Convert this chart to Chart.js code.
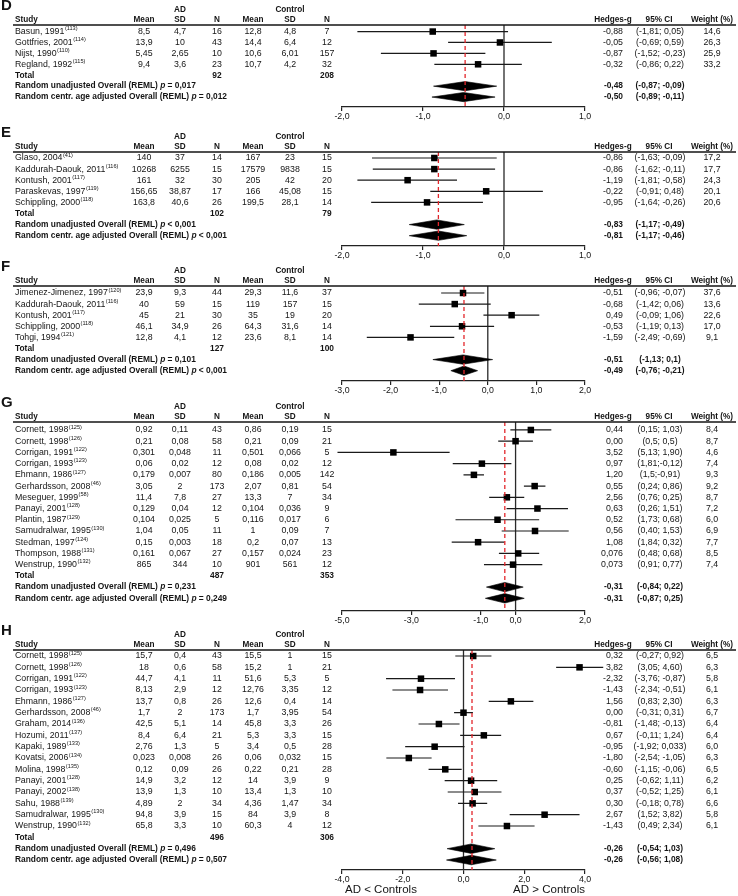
<!DOCTYPE html>
<html>
<head>
<meta charset="utf-8">
<script src="https://cdn.jsdelivr.net/npm/chart.js@4.4.1/dist/chart.umd.min.js"></script>
<style>
    html, body { margin: 0; padding: 0; background: #fff; }
    #page { position: relative; width: 738px; height: 896px; overflow: hidden; background: #fff; }
    #page canvas { position: absolute; left: 0; }
</style>
</head>
<body>
<div id="page"></div>
<script>
// ---------- Panel D ----------
const dStudy = ['Basun, 1991', 'Gottfries, 2001', 'Nijst, 1990', 'Regland, 1992'];
const dRef = ['113', '114', '110', '115'];
const dCells = [
    ['8,5', '4,7', '16', '12,8', '4,8', '7', '-0,88', '(-1,81; 0,05)', '14,6'],
    ['13,9', '10', '43', '14,4', '6,4', '12', '-0,05', '(-0,69; 0,59)', '26,3'],
    ['5,45', '2,65', '10', '10,6', '6,01', '157', '-0,87', '(-1,52; -0,23)', '25,9'],
    ['9,4', '3,6', '23', '10,7', '4,2', '32', '-0,32', '(-0,86; 0,22)', '33,2']
];
const dTotal = ['92', '208'];
const dPooledCells = [['= 0,017', '-0,48', '(-0,87; -0,09)'], ['= 0,012', '-0,50', '(-0,89; -0,11)']];
const dEffect = [-0.88, -0.05, -0.87, -0.32];
const dLow = [-1.81, -0.69, -1.52, -0.86];
const dHigh = [0.05, 0.59, -0.23, 0.22];
const dPooled = [-0.48, -0.50];
const dPooledLow = [-0.87, -0.89];
const dPooledHigh = [-0.09, -0.11];
const dSummary = -0.48;
const dTicks = [-2, -1, 0, 1];

// ---------- Panel E ----------
const eStudy = ['Glaso, 2004', 'Kaddurah-Daouk, 2011', 'Kontush, 2001', 'Paraskevas, 1997', 'Schippling, 2000'];
const eRef = ['41', '116', '117', '119', '118'];
const eCells = [
    ['140', '37', '14', '167', '23', '15', '-0,86', '(-1,63; -0,09)', '17,2'],
    ['10268', '6255', '15', '17579', '9838', '15', '-0,86', '(-1,62; -0,11)', '17,7'],
    ['161', '32', '30', '205', '42', '20', '-1,19', '(-1,81; -0,58)', '24,3'],
    ['156,65', '38,87', '17', '166', '45,08', '15', '-0,22', '(-0,91; 0,48)', '20,1'],
    ['163,8', '40,6', '26', '199,5', '28,1', '14', '-0,95', '(-1,64; -0,26)', '20,6']
];
const eTotal = ['102', '79'];
const ePooledCells = [['< 0,001', '-0,83', '(-1,17; -0,49)'], ['< 0,001', '-0,81', '(-1,17; -0,46)']];
const eEffect = [-0.86, -0.86, -1.19, -0.22, -0.95];
const eLow = [-1.63, -1.62, -1.81, -0.91, -1.64];
const eHigh = [-0.09, -0.11, -0.58, 0.48, -0.26];
const ePooled = [-0.83, -0.81];
const ePooledLow = [-1.17, -1.17];
const ePooledHigh = [-0.49, -0.46];
const eSummary = -0.81;
const eTicks = [-2, -1, 0, 1];

// ---------- Panel F ----------
const fStudy = ['Jimenez-Jimenez, 1997', 'Kaddurah-Daouk, 2011', 'Kontush, 2001', 'Schippling, 2000', 'Tohgi, 1994'];
const fRef = ['120', '116', '117', '118', '121'];
const fCells = [
    ['23,9', '9,3', '44', '29,3', '11,6', '37', '-0,51', '(-0,96; -0,07)', '37,6'],
    ['40', '59', '15', '119', '157', '15', '-0,68', '(-1,42; 0,06)', '13,6'],
    ['45', '21', '30', '35', '19', '20', '0,49', '(-0,09; 1,06)', '22,6'],
    ['46,1', '34,9', '26', '64,3', '31,6', '14', '-0,53', '(-1,19; 0,13)', '17,0'],
    ['12,8', '4,1', '12', '23,6', '8,1', '14', '-1,59', '(-2,49; -0,69)', '9,1']
];
const fTotal = ['127', '100'];
const fPooledCells = [['= 0,101', '-0,51', '(-1,13; 0,1)'], ['< 0,001', '-0,49', '(-0,76; -0,21)']];
const fEffect = [-0.51, -0.68, 0.49, -0.53, -1.59];
const fLow = [-0.96, -1.42, -0.09, -1.19, -2.49];
const fHigh = [-0.07, 0.06, 1.06, 0.13, -0.69];
const fPooled = [-0.51, -0.49];
const fPooledLow = [-1.13, -0.76];
const fPooledHigh = [0.1, -0.21];
const fSummary = -0.49;
const fTicks = [-3, -2, -1, 0, 1, 2];

// ---------- Panel G ----------
const gStudy = ['Cornett, 1998', 'Cornett, 1998', 'Corrigan, 1991', 'Corrigan, 1993', 'Ehmann, 1986',
    'Gerhardsson, 2008', 'Meseguer, 1999', 'Panayi, 2001', 'Plantin, 1987', 'Samudralwar, 1995',
    'Stedman, 1997', 'Thompson, 1988', 'Wenstrup, 1990'];
const gRef = ['125', '126', '122', '123', '127', '46', '58', '128', '129', '130', '124', '131', '132'];
const gCells = [
    ['0,92', '0,11', '43', '0,86', '0,19', '15', '0,44', '(0,15; 1,03)', '8,4'],
    ['0,21', '0,08', '58', '0,21', '0,09', '21', '0,00', '(0,5; 0,5)', '8,7'],
    ['0,301', '0,048', '11', '0,501', '0,066', '5', '3,52', '(5,13; 1,90)', '4,6'],
    ['0,06', '0,02', '12', '0,08', '0,02', '12', '0,97', '(1,81;-0,12)', '7,4'],
    ['0,179', '0,007', '80', '0,186', '0,005', '142', '1,20', '(1,5;-0,91)', '9,3'],
    ['3,05', '2', '173', '2,07', '0,81', '54', '0,55', '(0,24; 0,86)', '9,2'],
    ['11,4', '7,8', '27', '13,3', '7', '34', '2,56', '(0,76; 0,25)', '8,7'],
    ['0,129', '0,04', '12', '0,104', '0,036', '9', '0,63', '(0,26; 1,51)', '7,2'],
    ['0,104', '0,025', '5', '0,116', '0,017', '6', '0,52', '(1,73; 0,68)', '6,0'],
    ['1,04', '0,05', '11', '1', '0,09', '7', '0,56', '(0,40; 1,53)', '6,9'],
    ['0,15', '0,003', '18', '0,2', '0,07', '13', '1,08', '(1,84; 0,32)', '7,7'],
    ['0,161', '0,067', '27', '0,157', '0,024', '23', '0,076', '(0,48; 0,68)', '8,5'],
    ['865', '344', '10', '901', '561', '12', '0,073', '(0,91; 0,77)', '7,4']
];
const gTotal = ['487', '353'];
const gPooledCells = [['= 0,231', '-0,31', '(-0,84; 0,22)'], ['= 0,249', '-0,31', '(-0,87; 0,25)']];
// plotted positions as drawn in the figure
const gEffect = [0.44, 0.00, -3.52, -0.97, -1.20, 0.55, -0.25, 0.63, -0.52, 0.56, -1.08, 0.076, -0.073];
const gLow = [-0.15, -0.5, -5.13, -1.81, -1.5, 0.24, -0.76, -0.26, -1.73, -0.40, -1.84, -0.48, -0.91];
const gHigh = [1.03, 0.5, -1.90, -0.12, -0.91, 0.86, 0.25, 1.51, 0.68, 1.53, -0.32, 0.68, 0.77];
const gPooled = [-0.31, -0.31];
const gPooledLow = [-0.84, -0.87];
const gPooledHigh = [0.22, 0.25];
const gSummary = -0.31;
const gTicks = [-5, -3, -1, 0, 2];

// ---------- Panel H ----------
const hStudy = ['Cornett, 1998', 'Cornett, 1998', 'Corrigan, 1991', 'Corrigan, 1993', 'Ehmann, 1986',
    'Gerhardsson, 2008', 'Graham, 2014', 'Hozumi, 2011', 'Kapaki, 1989', 'Kovatsi, 2006', 'Molina, 1998',
    'Panayi, 2001', 'Panayi, 2002', 'Sahu, 1988', 'Samudralwar, 1995', 'Wenstrup, 1990'];
const hRef = ['125', '126', '122', '123', '127', '46', '136', '137', '133', '134', '135', '128', '138', '139', '130', '132'];
const hCells = [
    ['15,7', '0,4', '43', '15,5', '1', '15', '0,32', '(-0,27; 0,92)', '6,5'],
    ['18', '0,6', '58', '15,2', '1', '21', '3,82', '(3,05; 4,60)', '6,3'],
    ['44,7', '4,1', '11', '51,6', '5,3', '5', '-2,32', '(-3,76; -0,87)', '5,8'],
    ['8,13', '2,9', '12', '12,76', '3,35', '12', '-1,43', '(-2,34; -0,51)', '6,1'],
    ['13,7', '0,8', '26', '12,6', '0,4', '14', '1,56', '(0,83; 2,30)', '6,3'],
    ['1,7', '2', '173', '1,7', '3,95', '54', '0,00', '(-0,31; 0,31)', '6,7'],
    ['42,5', '5,1', '14', '45,8', '3,3', '26', '-0,81', '(-1,48; -0,13)', '6,4'],
    ['8,4', '6,4', '21', '5,3', '3,3', '15', '0,67', '(-0,11; 1,24)', '6,4'],
    ['2,76', '1,3', '5', '3,4', '0,5', '28', '-0,95', '(-1,92; 0,033)', '6,0'],
    ['0,023', '0,008', '26', '0,06', '0,032', '15', '-1,80', '(-2,54; -1,05)', '6,3'],
    ['0,12', '0,09', '26', '0,22', '0,21', '28', '-0,60', '(-1,15; -0,06)', '6,5'],
    ['14,9', '3,2', '12', '14', '3,9', '9', '0,25', '(-0,62; 1,11)', '6,2'],
    ['13,9', '1,3', '10', '13,4', '1,3', '10', '0,37', '(-0,52; 1,25)', '6,1'],
    ['4,89', '2', '34', '4,36', '1,47', '34', '0,30', '(-0,18; 0,78)', '6,6'],
    ['94,8', '3,9', '15', '84', '3,9', '8', '2,67', '(1,52; 3,82)', '5,8'],
    ['65,8', '3,3', '10', '60,3', '4', '12', '-1,43', '(0,49; 2,34)', '6,1']
];
const hTotal = ['496', '306'];
const hPooledCells = [['= 0,496', '-0,26', '(-0,54; 1,03)'], ['= 0,507', '-0,26', '(-0,56; 1,08)']];
const hEffect = [0.32, 3.82, -1.40, -1.43, 1.56, 0.00, -0.81, 0.67, -0.95, -1.80, -0.60, 0.25, 0.37, 0.30, 2.67, 1.43];
const hLow = [-0.27, 3.05, -2.55, -2.34, 0.83, -0.31, -1.48, -0.11, -1.92, -2.54, -1.15, -0.62, -0.52, -0.18, 1.52, 0.49];
const hHigh = [0.92, 4.60, -0.28, -0.51, 2.30, 0.31, -0.13, 1.24, 0.033, -1.05, -0.06, 1.11, 1.25, 0.78, 3.82, 2.34];
const hPooled = [0.26, 0.26];
const hPooledLow = [-0.54, -0.56];
const hPooledHigh = [1.03, 1.08];
const hSummary = 0.28;
const hTicks = [-4, -2, 0, 2, 4];

const pooledLabels = ['Random unadjusted Overall (REML)', 'Random centr. age adjusted Overall (REML)'];

// ---------- layout ----------
const FONT = "'Liberation Sans', Arial, sans-serif";
const INK = '#141414';
const cellX = [144, 180, 217, 253, 290, 327];
const gX = 623, ciX = 660, wX = 712, studyX = 15;

const panels = [
    { letter: 'D', study: dStudy, ref: dRef, cells: dCells, total: dTotal, pooledCells: dPooledCells,
      effect: dEffect, low: dLow, high: dHigh, pooled: dPooled, pooledLow: dPooledLow, pooledHigh: dPooledHigh,
      summary: dSummary, ticks: dTicks, areaTop: 25, areaBottom: 107, yMin: -0.6, yMax: 6.91 },
    { letter: 'E', study: eStudy, ref: eRef, cells: eCells, total: eTotal, pooledCells: ePooledCells,
      effect: eEffect, low: eLow, high: eHigh, pooled: ePooled, pooledLow: ePooledLow, pooledHigh: ePooledHigh,
      summary: eSummary, ticks: eTicks, areaTop: 152, areaBottom: 246, yMin: -0.54, yMax: 7.93 },
    { letter: 'F', study: fStudy, ref: fRef, cells: fCells, total: fTotal, pooledCells: fPooledCells,
      effect: fEffect, low: fLow, high: fHigh, pooled: fPooled, pooledLow: fPooledLow, pooledHigh: fPooledHigh,
      summary: fSummary, ticks: fTicks, areaTop: 286, areaBottom: 381, yMin: -0.63, yMax: 7.93 },
    { letter: 'G', study: gStudy, ref: gRef, cells: gCells, total: gTotal, pooledCells: gPooledCells,
      effect: gEffect, low: gLow, high: gHigh, pooled: gPooled, pooledLow: gPooledLow, pooledHigh: gPooledHigh,
      summary: gSummary, ticks: gTicks, areaTop: 422, areaBottom: 611, yMin: -0.71, yMax: 16.13 },
    { letter: 'H', study: hStudy, ref: hRef, cells: hCells, total: hTotal, pooledCells: hPooledCells,
      effect: hEffect, low: hLow, high: hHigh, pooled: hPooled, pooledLow: hPooledLow, pooledHigh: hPooledHigh,
      summary: hSummary, ticks: hTicks, areaTop: 650, areaBottom: 870, yMin: -0.53, yMax: 18.88, footer: true }
];

Chart.defaults.font.family = FONT;
Chart.defaults.color = INK;

function put(ctx, s, x, y, align, weight, size) {
    ctx.font = weight + ' ' + size + 'px ' + FONT;
    ctx.textAlign = align;
    ctx.textBaseline = 'middle';
    ctx.fillText(s, x, y);
    return ctx.measureText(s).width;
}

// Table text around the plot
function drawTable(chart, p) {
    const ctx = chart.ctx;
    const area = chart.chartArea;
    const ys = chart.scales.y;
    const n = p.effect.length;

    ctx.save();
    ctx.fillStyle = INK;
    ctx.strokeStyle = INK;
    ctx.lineWidth = 1.3;
    ctx.beginPath();
    ctx.moveTo(13, area.top);
    ctx.lineTo(736, area.top);
    ctx.stroke();

    put(ctx, p.letter, 1, area.top - 19, 'left', 'bold', 15);
    put(ctx, 'AD', cellX[1], area.top - 15.5, 'center', 'bold', 8.2);
    put(ctx, 'Control', cellX[4], area.top - 15.5, 'center', 'bold', 8.2);

    const hy = area.top - 5.5;
    put(ctx, 'Study', studyX, hy, 'left', 'bold', 8.2);
    ['Mean', 'SD', 'N', 'Mean', 'SD', 'N'].forEach((h, i) => put(ctx, h, cellX[i], hy, 'center', 'bold', 8.2));
    put(ctx, 'Hedges-g', 613, hy, 'center', 'bold', 8.2);
    put(ctx, '95% CI', 659, hy, 'center', 'bold', 8.2);
    put(ctx, 'Weight (%)', wX, hy, 'center', 'bold', 8.2);

    p.study.forEach((name, i) => {
        const y = ys.getPixelForValue(i);
        const w = put(ctx, name, studyX, y, 'left', 'normal', 8.8);
        put(ctx, '(' + p.ref[i] + ')', studyX + w + 0.5, y - 2.8, 'left', 'normal', 5.6);
        const row = p.cells[i];
        for (let c = 0; c < 6; c++) put(ctx, row[c], cellX[c], y, 'center', 'normal', 8.8);
        put(ctx, row[6], gX, y, 'right', 'normal', 8.8);
        put(ctx, row[7], ciX, y, 'center', 'normal', 8.8);
        put(ctx, row[8], wX, y, 'center', 'normal', 8.8);
    });

    const ty = ys.getPixelForValue(n);
    put(ctx, 'Total', studyX, ty, 'left', 'bold', 8.4);
    put(ctx, p.total[0], cellX[2], ty, 'center', 'bold', 8.4);
    put(ctx, p.total[1], cellX[5], ty, 'center', 'bold', 8.4);

    p.pooledCells.forEach((cell, k) => {
        const y = ys.getPixelForValue(n + 1 + k);
        let x = studyX;
        x += put(ctx, pooledLabels[k] + ' ', x, y, 'left', 'bold', 8.4);
        x += put(ctx, 'p', x, y, 'left', 'italic bold', 8.4);
        put(ctx, ' ' + cell[0], x, y, 'left', 'bold', 8.4);
        put(ctx, cell[1], gX, y, 'right', 'bold', 8.4);
        put(ctx, cell[2], ciX, y, 'center', 'bold', 8.4);
    });

    if (p.footer) {
        put(ctx, 'AD < Controls', 345, area.bottom + 20, 'left', 'normal', 11.5);
        put(ctx, 'AD > Controls', 585, area.bottom + 20, 'right', 'normal', 11.5);
    }
    ctx.restore();
}

function buildPanel(p) {
    const page = document.getElementById('page');
    const canvas = document.createElement('canvas');
    const top = p.areaTop - 27;
    const extra = p.footer ? 10 : 0;
    const height = p.areaBottom - top + 16 + extra;
    canvas.width = 738;
    canvas.height = height;
    canvas.style.top = top + 'px';
    canvas.style.width = '738px';
    canvas.style.height = height + 'px';
    page.appendChild(canvas);

    const n = p.effect.length;
    const ciData = [];
    p.effect.forEach((_, i) => {
        ciData.push({ x: p.low[i], y: i }, { x: p.high[i], y: i }, { x: NaN, y: NaN });
    });

    const diamonds = p.pooled.map((est, k) => {
        const r = n + 1 + k;
        return {
            type: 'line',
            order: 3,
            data: [
                { x: p.pooledLow[k], y: r }, { x: est, y: r - 0.42 },
                { x: p.pooledHigh[k], y: r }, { x: est, y: r + 0.42 },
                { x: p.pooledLow[k], y: r }
            ],
            fill: 'shape',
            backgroundColor: '#000',
            borderColor: '#000',
            borderWidth: 0.6,
            pointRadius: 0,
            tension: 0
        };
    });

    return new Chart(canvas.getContext('2d'), {
        type: 'scatter',
        data: {
            datasets: [
                {
                    // summary estimate
                    data: [{ x: p.summary, y: p.yMin }, { x: p.summary, y: p.yMax }],
                    showLine: true,
                    order: 0,
                    borderColor: '#e3262b',
                    borderWidth: 1.3,
                    borderDash: [4, 3],
                    pointRadius: 0
                },
                {
                    data: p.effect.map((v, i) => ({ x: v, y: i })),
                    order: 1,
                    pointStyle: 'rect',
                    pointRadius: 4.6,
                    backgroundColor: '#000',
                    borderColor: '#000',
                    borderWidth: 0,
                    clip: false
                },
                {
                    data: ciData,
                    showLine: true,
                    order: 2,
                    borderColor: '#1a1a1a',
                    borderWidth: 1.2,
                    pointRadius: 0,
                    spanGaps: false,
                    clip: false
                },
                ...diamonds,
                {
                    // line of no effect
                    data: [{ x: 0, y: p.yMin }, { x: 0, y: p.yMax }],
                    showLine: true,
                    order: 4,
                    borderColor: '#2a2a2a',
                    borderWidth: 1.3,
                    pointRadius: 0
                }
            ]
        },
        options: {
            responsive: false,
            animation: false,
            devicePixelRatio: 1,
            events: [],
            layout: { padding: { left: 342, right: 153, top: 27, bottom: extra } },
            plugins: { legend: { display: false }, tooltip: { enabled: false } },
            scales: {
                x: {
                    type: 'linear',
                    min: p.ticks[0],
                    max: p.ticks[p.ticks.length - 1],
                    afterBuildTicks: (axis) => { axis.ticks = p.ticks.map(v => ({ value: v })); },
                    afterFit: (axis) => { axis.height = 16; },
                    border: { display: true, color: '#222', width: 1.2 },
                    grid: { display: true, drawOnChartArea: false, drawTicks: true, tickLength: 4, color: '#222', lineWidth: 1.2 },
                    ticks: {
                        autoSkip: false,
                        maxRotation: 0,
                        padding: 0,
                        color: INK,
                        font: { size: 8.8 },
                        callback: (v) => Number(v).toFixed(1).replace('.', ',')
                    }
                },
                y: {
                    type: 'linear',
                    display: false,
                    reverse: true,
                    min: p.yMin,
                    max: p.yMax
                }
            }
        },
        plugins: [{ id: 'table' + p.letter, afterDraw: (chart) => drawTable(chart, p) }]
    });
}

panels.forEach(buildPanel);
</script>
</body>
</html>
